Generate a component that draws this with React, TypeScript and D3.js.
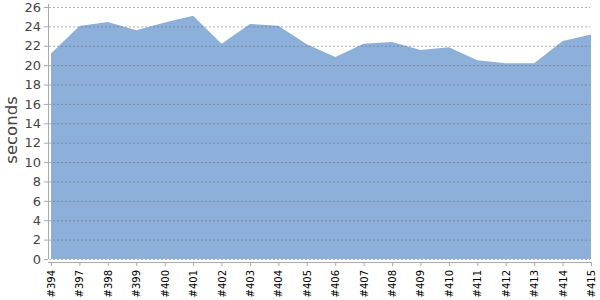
import React from "react";
import * as d3 from "d3";

const categories = ["#394","#397","#398","#399","#400","#401","#402","#403","#404","#405","#406","#407","#408","#409","#410","#411","#412","#413","#414","#415"];
const seconds = [21.2,24.05,24.45,23.6,24.4,25.1,22.2,24.25,24.07,22.15,20.85,22.2,22.4,21.57,21.85,20.5,20.2,20.2,22.5,23.15];
const yTicks = [0,2,4,6,8,10,12,14,16,18,20,22,24,26];

const W = 600, H = 300;
const left = 51, right = 591, top = 7, bottom = 259;

export default function App() {
  const x = d3.scalePoint<string>().domain(categories).range([left, right]);
  const y = d3.scaleLinear().domain([0, 26]).range([bottom, top]);
  const data = categories.map((c, i) => ({ c, v: seconds[i] }));
  const area = d3.area<{ c: string; v: number }>()
    .x(d => x(d.c) as number)
    .y0(y(0))
    .y1(d => y(d.v));
  const font = "'DejaVu Sans', Verdana, sans-serif";
  return (
    <svg width={W} height={H} style={{ position: "absolute", left: 0, top: 0 }}>
      <rect width={W} height={H} fill="#fff" />
      <path d={area(data) || ""} fill="#8db0da" />
      {yTicks.map(t => (
        <g key={t}>
          <line x1={49} x2={590} y1={y(t) + 0.5} y2={y(t) + 0.5} stroke="#666" strokeOpacity={0.5} strokeDasharray="2,2" />
          <line x1={44} x2={48} y1={y(t) + 0.5} y2={y(t) + 0.5} stroke="#aaa" />
          <text x={41} y={y(t)} dy="0.36em" textAnchor="end" fontFamily={font} fontSize={13} fill="#444">{t}</text>
        </g>
      ))}
      <line x1={48.5} x2={48.5} y1={4} y2={259} stroke="#aaa" />
      <line x1={48} x2={592} y1={262.5} y2={262.5} stroke="#aaa" />
      {categories.map(c => (
        <g key={c}>
          <line x1={(x(c) as number) + 0.5} x2={(x(c) as number) + 0.5} y1={262} y2={266} stroke="#aaa" />
          <text transform={`translate(${(x(c) as number) + 4},270) rotate(-90)`} textAnchor="end" fontFamily={font} fontSize={10} fill="#000">{c}</text>
        </g>
      ))}
      <text transform="translate(17,130) rotate(-90)" textAnchor="middle" fontFamily={font} fontSize={16.5} fill="#444">seconds</text>
    </svg>
  );
}
